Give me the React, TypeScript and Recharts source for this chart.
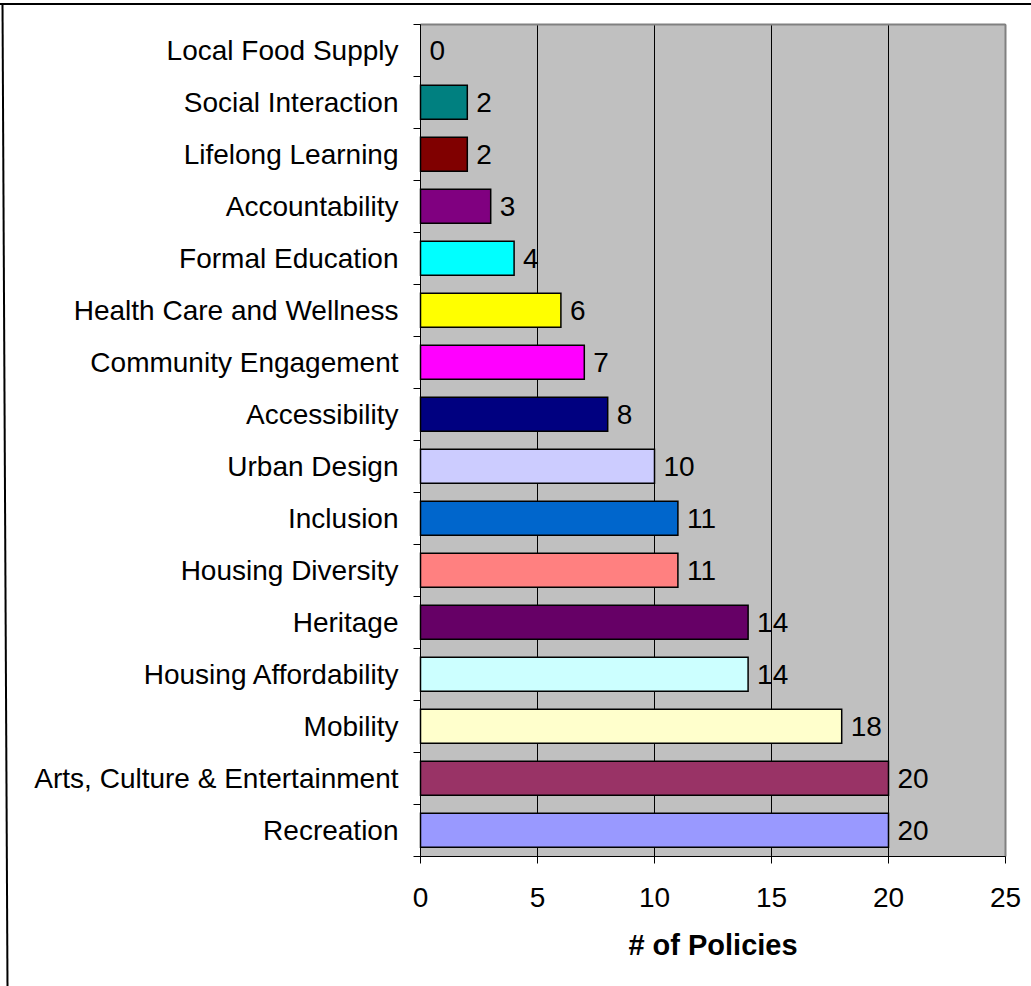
import React from 'react';
import { BarChart, Bar, XAxis, YAxis, CartesianGrid, Cell, LabelList } from 'recharts';

const categories = [
  'Local Food Supply',
  'Social Interaction',
  'Lifelong Learning',
  'Accountability',
  'Formal Education',
  'Health Care and Wellness',
  'Community Engagement',
  'Accessibility',
  'Urban Design',
  'Inclusion',
  'Housing Diversity',
  'Heritage',
  'Housing Affordability',
  'Mobility',
  'Arts, Culture & Entertainment',
  'Recreation',
];

const policyCounts = [0, 2, 2, 3, 4, 6, 7, 8, 10, 11, 11, 14, 14, 18, 20, 20];

const barColors = [
  '#C0C0C0',
  '#008080',
  '#800000',
  '#800080',
  '#00FFFF',
  '#FFFF00',
  '#FF00FF',
  '#000080',
  '#CCCCFF',
  '#0066CC',
  '#FF8080',
  '#660066',
  '#CCFFFF',
  '#FFFFCC',
  '#993366',
  '#9999FF',
];

const xTicks = [0, 5, 10, 15, 20, 25];
const xAxisTitle = '# of Policies';

const data = categories.map((category, i) => ({
  category,
  value: policyCounts[i],
  color: barColors[i],
}));

const W = 1031;
const H = 986;
const MARGIN = { top: 24.5, right: 25.5, left: 0.5, bottom: 0 };
const X_AXIS_H = 129.5;
const Y_AXIS_W = 420;
const TICK_SIZE = 7;
const Y_TICK_MARGIN = 15;
const LABEL_OFFSET = 9;
const FONT = '"Liberation Sans", Arial, sans-serif';
const FONT_SIZE = 28;
const BAND = (H - MARGIN.top - MARGIN.bottom - X_AXIS_H) / categories.length;

const YTick = (props: any) => {
  const { x, y, payload, index } = props;
  const lx1 = x + Y_TICK_MARGIN;
  const lx2 = lx1 + TICK_SIZE;
  return (
    <g>
      <line x1={lx1} x2={lx2} y1={y - BAND / 2} y2={y - BAND / 2} stroke="#000" strokeWidth={1} />
      {index === categories.length - 1 && (
        <line x1={lx1} x2={lx2} y1={y + BAND / 2} y2={y + BAND / 2} stroke="#000" strokeWidth={1} />
      )}
      <text x={x} y={y} dy="0.355em" textAnchor="end" fill="#000" fontSize={FONT_SIZE} fontFamily={FONT}>
        {payload.value}
      </text>
    </g>
  );
};

const renderValueLabel = (props: any) => {
  const { x, y, width, height, value } = props;
  return (
    <text
      x={Number(x) + Number(width || 0) + LABEL_OFFSET}
      y={Number(y) + Number(height) / 2}
      dy="0.355em"
      textAnchor="start"
      fill="#000"
      fontSize={FONT_SIZE}
      fontFamily={FONT}
    >
      {value}
    </text>
  );
};

export default function App() {
  return (
    <div style={{ position: 'absolute', left: 0, top: 0, width: W, height: H, overflow: 'hidden', background: '#fff' }}>
      <svg width={W} height={H} style={{ position: 'absolute', left: 0, top: 0 }}>
        <line x1={0} x2={W} y1={4} y2={4} stroke="#000" strokeWidth={2} />
        <line x1={2.5} x2={7.5} y1={3} y2={H} stroke="#000" strokeWidth={2} />
      </svg>
      <div style={{ position: 'absolute', left: 0, top: 0 }}>
        <BarChart
          width={W}
          height={H}
          data={data}
          layout="vertical"
          margin={MARGIN}
          barCategoryGap="17%"
          style={{ fontFamily: FONT }}
        >
          <CartesianGrid fill="#C0C0C0" horizontal={false} stroke="#000" strokeWidth={1} fillOpacity={1} />
          <CartesianGrid
            stroke="#808080"
            strokeWidth={2}
            horizontalCoordinatesGenerator={({ offset }: any) => [offset.top]}
            verticalCoordinatesGenerator={({ offset }: any) => [offset.left + offset.width]}
          />
          <XAxis
            type="number"
            domain={[0, 25]}
            ticks={xTicks}
            interval={0}
            height={X_AXIS_H}
            tickSize={TICK_SIZE}
            tickMargin={24}
            axisLine={{ stroke: '#000' }}
            tickLine={{ stroke: '#000' }}
            tick={{ fill: '#000', fontSize: FONT_SIZE, fontFamily: FONT }}
            label={{
              value: xAxisTitle,
              position: 'insideBottom',
              offset: 31,
              fill: '#000',
              fontSize: 29,
              fontWeight: 'bold',
              fontFamily: FONT,
            }}
          />
          <YAxis
            type="category"
            dataKey="category"
            width={Y_AXIS_W}
            interval={0}
            tickSize={TICK_SIZE}
            tickMargin={Y_TICK_MARGIN}
            tickLine={false}
            axisLine={{ stroke: '#000' }}
            tick={<YTick />}
          />
          <Bar dataKey="value" isAnimationActive={false} stroke="#000" strokeWidth={1.5} minPointSize={0.01}>
            {data.map((d, i) => (
              <Cell
                key={i}
                fill={d.value === 0 ? 'none' : d.color}
                stroke={d.value === 0 ? 'none' : '#000'}
              />
            ))}
            <LabelList dataKey="value" content={renderValueLabel} />
          </Bar>
        </BarChart>
      </div>
    </div>
  );
}
